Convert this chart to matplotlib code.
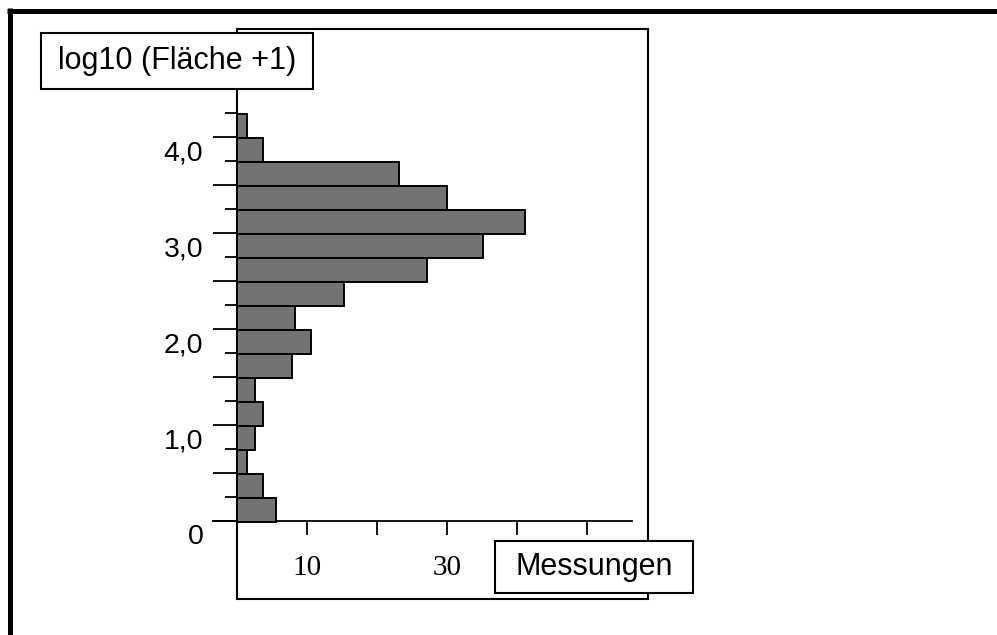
import matplotlib.pyplot as plt
from matplotlib.lines import Line2D
from matplotlib.patches import Rectangle

# Histogramm: log10(Fläche + 1) gegen Anzahl Messungen
bin_centers = [0.11, 0.36, 0.61, 0.86, 1.11, 1.36, 1.61, 1.86, 2.11,
               2.36, 2.61, 2.86, 3.11, 3.36, 3.61, 3.86, 4.11]
counts = [5.5, 3.7, 1.4, 2.6, 3.7, 2.6, 7.8, 10.6, 8.3,
          15.2, 27.2, 35.2, 41.2, 30.0, 23.1, 3.7, 1.4]
bin_width = 0.25

y_major = [0, 0.5, 1.0, 1.5, 2.0, 2.5, 3.0, 3.5, 4.0, 4.5]
y_minor = [0.25, 0.75, 1.25, 1.75, 2.25, 2.75, 3.25, 3.75, 4.25]
y_labels = {0: '0', 1.0: '1,0', 2.0: '2,0', 3.0: '3,0', 4.0: '4,0'}
x_ticks = [10, 20, 30, 40, 50]
x_labels = ['10', '', '30', '', '']

W, H = 997, 635
fig = plt.figure(figsize=(W / 100, H / 100), dpi=100)

# Achsenbox in Pixeln
left, right, top, bottom = 237.3, 647.5, 28.5, 598.5
ax = fig.add_axes([left / W, 1 - bottom / H, (right - left) / W, (bottom - top) / H])

x_scale = 6.99   # Pixel pro Messung
y_scale = 96.0   # Pixel pro Einheit
y0_px = 520.5
ax.set_xlim(0, (right - left) / x_scale)
ax.set_ylim((y0_px - bottom) / y_scale, (y0_px - top) / y_scale)

ax.barh(bin_centers, counts, height=bin_width, color='#737373',
        edgecolor='black', linewidth=1.4, zorder=3)

for s in ['left', 'top', 'right']:
    ax.spines[s].set_linewidth(1.5)
ax.spines['bottom'].set_position(('data', 0))
ax.spines['bottom'].set_bounds(-24.6 / x_scale, (631.7 - left) / x_scale)
ax.spines['bottom'].set_linewidth(1.3)
ax.spines['bottom'].set_clip_on(False)
# untere Kante der Box
ax.plot([0, 1], [0, 0], transform=ax.transAxes, color='black', lw=1.5, clip_on=False)

ax.set_yticks(y_major)
ax.set_yticks(y_minor, minor=True)
ax.tick_params(axis='y', which='major', direction='out', length=17.5, width=1.3, labelleft=False)
ax.tick_params(axis='y', which='minor', direction='out', length=8.8, width=1.3)
for v, lab in y_labels.items():
    ax.annotate(lab, xy=(0, v), xycoords=ax.get_yaxis_transform(),
                xytext=(-34, -17), textcoords='offset pixels', ha='right', va='center',
                fontsize=20.5, family='Liberation Sans')

ax.set_xticks(x_ticks)
ax.set_xticklabels(x_labels, family='Liberation Serif', fontsize=21)
ax.tick_params(axis='x', direction='out', length=10, width=1.3, pad=15)

# Achsenbeschriftungen in Kästen
def label_box(x0, y0, x1, y1, text):
    fig.add_artist(Rectangle((x0 / W, 1 - y1 / H), (x1 - x0) / W, (y1 - y0) / H,
                             transform=fig.transFigure, facecolor='white',
                             edgecolor='black', lw=1.5, zorder=5))
    fig.text((x0 + x1) / 2 / W, 1 - (y0 + y1) / 2 / H, text, ha='center', va='center',
             fontsize=22, family='Liberation Sans', zorder=6)

label_box(40.7, 33.3, 313.3, 89.3, 'log10 (Fläche +1)')
label_box(495, 540.7, 693.3, 592.7, 'Messungen')

# dicker Rahmen oben und links
fig.add_artist(Line2D([9.8 / W, 9.8 / W], [0, 1 - 8 / H], transform=fig.transFigure,
                      color='black', lw=3.6, solid_capstyle='butt'))
fig.add_artist(Line2D([7.3 / W, 1], [1 - 10.5 / H, 1 - 10.5 / H], transform=fig.transFigure,
                      color='black', lw=3.6, solid_capstyle='butt'))

fig.savefig('out.png', dpi=100)
